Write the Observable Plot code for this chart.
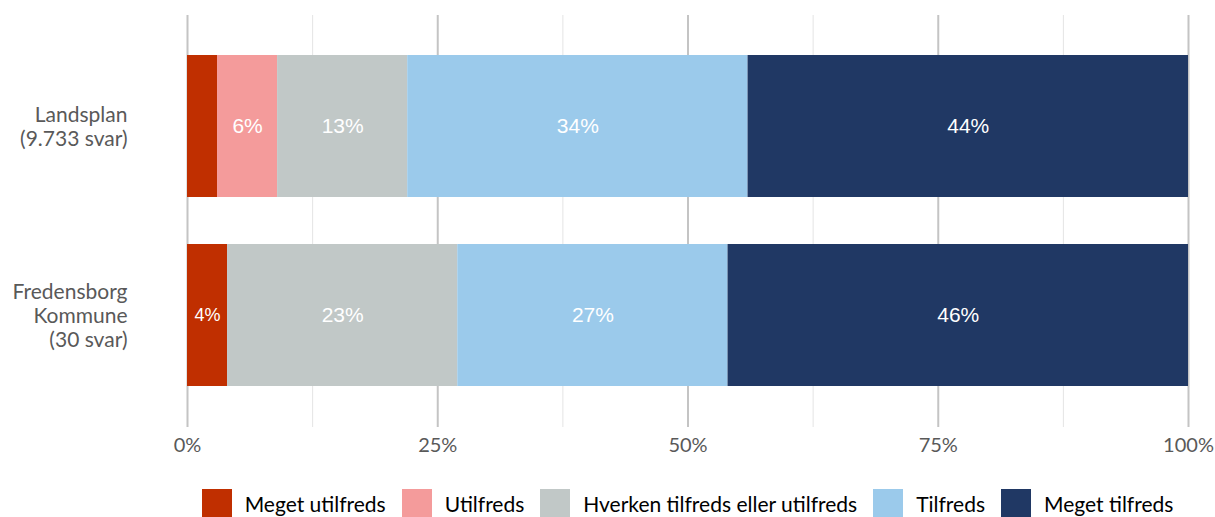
<!DOCTYPE html>
<html>
<head>
<meta charset="utf-8">
<script src="https://cdn.jsdelivr.net/npm/d3@7"></script>
<script src="https://cdn.jsdelivr.net/npm/@observablehq/plot@0.6"></script>
<style>
  html, body { margin: 0; padding: 0; background: #fff; }
  #chart { width: 1215px; }
  .legend { display: flex; justify-content: center; align-items: center; margin-left: 187px; width: 1001px; margin-top: 27px; font-family: Lato, "Open Sans", sans-serif; font-size: 21px; color: #000; white-space: nowrap; }
  .legend .item { display: flex; align-items: center; margin: 0 8px; }
  .legend .sw { width: 30px; height: 28px; margin-right: 13px; flex: none; }
</style>
</head>
<body>
<div id="chart"></div>
<script>
const categories = ["Landsplan\n(9.733 svar)", "Fredensborg\nKommune\n(30 svar)"];
const answers = ["Meget utilfreds", "Utilfreds", "Hverken tilfreds eller utilfreds", "Tilfreds", "Meget tilfreds"];
const colors = ["#C02F00", "#F49B9B", "#C1C8C7", "#9BCAEB", "#203864"];
const landsplan = [3, 6, 13, 34, 44];
const fredensborg = [4, 0, 23, 27, 46];
const labelsShown = [[false, true, true, true, true], [true, false, true, true, true]];
const majorTicks = [0, 25, 50, 75, 100];
const minorTicks = [12.5, 37.5, 62.5, 87.5];

const series = [landsplan, fredensborg];
const data = [];
categories.forEach((c, ci) => {
  answers.forEach((a, ai) => {
    data.push({cat: c, answer: a, value: series[ci][ai], show: labelsShown[ci][ai] && series[ci][ai] > 0});
  });
});

const chart = Plot.plot({
  width: 1215,
  height: 462,
  marginLeft: 187,
  marginRight: 27,
  marginTop: 15,
  marginBottom: 35,
  style: { fontFamily: "Lato, 'Open Sans', sans-serif", background: "#fff" },
  x: { domain: [0, 100] },
  y: { domain: categories, paddingInner: 0.247, paddingOuter: 0.21 },
  color: { domain: answers, range: colors },
  marks: [
    Plot.ruleX(minorTicks, { stroke: "#e4e4e4", strokeWidth: 1 }),
    Plot.ruleX(majorTicks, { stroke: "#c4c4c4", strokeWidth: 2 }),
    Plot.barX(data, Plot.stackX({ x: "value", y: "cat", fill: "answer", z: "answer", order: answers })),
    Plot.text(data, Plot.stackX({
      x: "value", y: "cat", z: "answer", order: answers,
      text: d => d.show ? d.value + "%" : "",
      fill: "#fff",
      fontSize: d => d.value < 5 ? 18 : 21,
      fontFamily: "'Liberation Sans', Arial, sans-serif"
    })),
    Plot.axisX(majorTicks, { tickFormat: d => d + "%", tickSize: 0, tickPadding: 10, fontSize: 20, color: "#595959", label: null }),
    Plot.axisY({ tickSize: 0, tickPadding: 60, fontSize: 21, color: "#595959", label: null, lineHeight: 1.15 })
  ]
});
document.getElementById("chart").appendChild(chart);

const legend = document.createElement("div");
legend.className = "legend";
answers.forEach((a, i) => {
  const item = document.createElement("div");
  item.className = "item";
  const sw = document.createElement("span");
  sw.className = "sw";
  sw.style.background = colors[i];
  const t = document.createElement("span");
  t.textContent = a;
  item.appendChild(sw);
  item.appendChild(t);
  legend.appendChild(item);
});
document.getElementById("chart").appendChild(legend);
</script>
</body>
</html>
